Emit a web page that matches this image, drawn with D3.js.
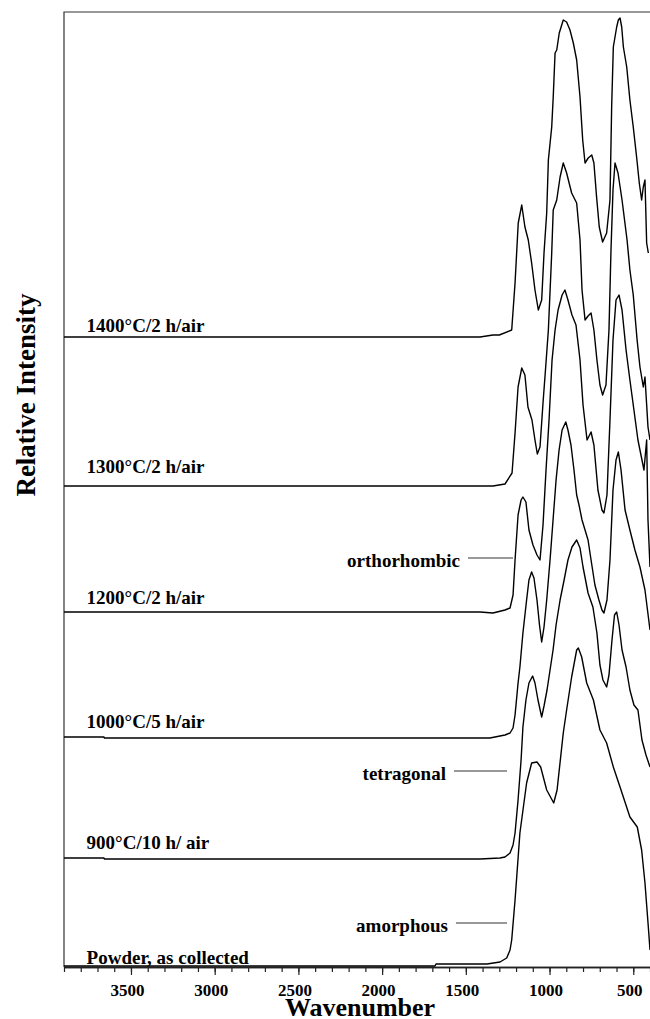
<!DOCTYPE html>
<html>
<head>
<meta charset="utf-8">
<script src="https://cdn.jsdelivr.net/npm/d3@7/dist/d3.min.js"></script>
<style>
  html, body { margin: 0; padding: 0; background: #fff; }
  svg { display: block; }
  text { font-family: "Liberation Serif", "Times New Roman", serif; font-weight: bold; fill: #000; }
</style>
</head>
<body>
<svg id="chart" width="650" height="1019"></svg>
<script>
// stacked IR spectra, bottom to top
var seriesNames = ["Powder, as collected", "900°C/10 h/ air", "1000°C/5 h/air", "1200°C/2 h/air", "1300°C/2 h/air", "1400°C/2 h/air"];
var seriesOffsets = [0, 108, 229, 354, 480, 629];

var powderWn = [3900, 1684, 1678, 1374, 1296, 1256, 1236, 1226, 1206, 1177, 1137, 1107, 1075, 1053, 1017, 975, 955, 918, 898, 868, 838, 828, 808, 778, 738, 699, 659, 619, 579, 520, 476, 450, 430, 410, 400];
var powderInt = [0, 0, 2, 2, 4, 8, 16, 26, 66, 133, 183, 203, 204, 199, 176, 163, 176, 233, 256, 289, 316, 318, 309, 283, 266, 236, 223, 199, 179, 149, 139, 116, 83, 39, 16];

var s900Wn = [3900, 3662, 3658, 1415, 1296, 1266, 1236, 1218, 1206, 1188, 1170, 1159, 1141, 1123, 1101, 1087, 1069, 1047, 1033, 1015, 997, 979, 961, 937, 913, 890, 866, 838, 818, 800, 770, 741, 717, 699, 681, 659, 645, 627, 612, 599, 585, 567, 543, 520, 496, 472, 448, 424, 400];
var s900Int = [0, 0, -1, -1, 0, 1, 5, 13, 25, 58, 98, 131, 158, 175, 182, 175, 158, 141, 152, 168, 188, 208, 233, 258, 278, 298, 311, 318, 310, 291, 265, 251, 225, 193, 178, 171, 183, 218, 243, 246, 233, 208, 191, 168, 153, 148, 118, 103, 91];

var s1000Wn = [3900, 3662, 3658, 1356, 1296, 1266, 1236, 1218, 1206, 1188, 1177, 1159, 1137, 1123, 1107, 1093, 1075, 1060, 1047, 1033, 1017, 997, 979, 961, 943, 925, 903, 890, 872, 854, 838, 824, 806, 788, 770, 752, 729, 705, 687, 675, 657, 639, 621, 603, 589, 573, 549, 520, 490, 460, 430, 400];
var s1000Int = [0, 0, -1, -1, 1, 2, 4, 9, 22, 54, 70, 104, 137, 157, 165, 159, 137, 112, 95, 110, 137, 177, 217, 257, 287, 307, 315, 307, 292, 267, 242, 232, 217, 207, 197, 177, 152, 137, 127, 124, 137, 177, 247, 277, 285, 267, 227, 207, 187, 170, 147, 107];

var s1200Wn = [3900, 1415, 1338, 1266, 1236, 1218, 1206, 1188, 1170, 1159, 1141, 1123, 1099, 1075, 1057, 1039, 1021, 1003, 985, 967, 949, 925, 908, 890, 866, 842, 818, 800, 776, 752, 735, 711, 687, 675, 657, 639, 621, 603, 585, 567, 543, 520, 496, 472, 454, 436, 420, 412, 400];
var s1200Int = [0, 0, -1, 2, 4, 17, 52, 97, 112, 115, 110, 82, 67, 57, 52, 87, 142, 192, 252, 282, 302, 317, 322, 312, 297, 287, 252, 207, 172, 180, 167, 122, 102, 99, 117, 192, 272, 312, 317, 302, 262, 232, 202, 172, 157, 142, 172, 92, 45];

var s1300Wn = [3900, 1338, 1266, 1224, 1206, 1188, 1166, 1147, 1129, 1105, 1087, 1073, 1057, 1039, 1023, 1007, 987, 978, 957, 937, 918, 898, 868, 838, 818, 806, 788, 770, 752, 735, 717, 699, 683, 663, 645, 633, 621, 609, 591, 567, 537, 520, 500, 477, 460, 440, 430, 412, 400];
var s1300Int = [0, 0, 2, 13, 53, 99, 118, 111, 79, 66, 46, 32, 39, 83, 119, 156, 233, 276, 286, 309, 323, 313, 293, 283, 246, 196, 166, 170, 173, 156, 126, 101, 91, 101, 156, 236, 296, 323, 313, 286, 246, 216, 191, 146, 119, 99, 109, 59, 46];

var s1400Wn = [3900, 1415, 1338, 1300, 1226, 1206, 1187, 1166, 1147, 1127, 1107, 1087, 1067, 1047, 1033, 1017, 1007, 987, 978, 967, 957, 942, 918, 898, 878, 858, 838, 818, 802, 788, 769, 748, 735, 719, 703, 683, 659, 639, 629, 619, 599, 589, 579, 569, 559, 539, 520, 500, 480, 464, 450, 440, 430, 420, 410];
var s1400Int = [0, 0, 2, 2, 7, 54, 114, 132, 110, 97, 74, 47, 27, 37, 84, 124, 177, 210, 240, 284, 287, 304, 317, 315, 307, 294, 277, 240, 197, 174, 179, 182, 174, 140, 110, 95, 104, 137, 230, 290, 310, 317, 319, 310, 290, 270, 237, 210, 180, 154, 137, 150, 157, 94, 84];

var majorTicks = [3500, 3000, 2500, 2000, 1500, 1000, 500];
var phaseNames = ["orthorhombic", "tetragonal", "amorphous"];
var phaseFromWn = [1487, 1571, 1559];
var phaseToWn = [1218, 1254, 1254];
var phaseLevel = [408, 195, 43];

var spectraWn = [powderWn, s900Wn, s1000Wn, s1200Wn, s1300Wn, s1400Wn];
var spectraInt = [powderInt, s900Int, s1000Int, s1200Int, s1300Int, s1400Int];

(function() {
  var svg = d3.select("#chart");
  var mLeft = 64, mRight = 650, mTop = 12, mBottom = 966;

  var x = d3.scaleLinear().domain([3900, 400]).range([mLeft, mRight]);
  var y = d3.scaleLinear().domain([0, 954]).range([mBottom, mTop]);

  svg.append("rect").attr("width", 650).attr("height", 1019).attr("fill", "#fff");

  // frame (top + left)
  svg.append("path")
    .attr("d", "M" + mRight + "," + mTop + "H" + mLeft + "V" + (mBottom + 1))
    .attr("fill", "none").attr("stroke", "#333").attr("stroke-width", 1.2);

  // x axis: minor then major ticks
  var minorAxis = d3.axisBottom(x)
    .tickValues(d3.range(3900, 399, -100))
    .tickSize(5).tickSizeOuter(0).tickFormat("");
  var majorAxis = d3.axisBottom(x)
    .tickValues(majorTicks)
    .tickSize(8).tickSizeOuter(0).tickPadding(9)
    .tickFormat(d3.format("d"));

  var gMinor = svg.append("g").attr("transform", "translate(0," + (mBottom + 1) + ")").call(minorAxis);
  var gMajor = svg.append("g").attr("transform", "translate(0," + (mBottom + 1) + ")").call(majorAxis);
  [gMinor, gMajor].forEach(function(g) {
    g.select(".domain").attr("stroke", "#222").attr("stroke-width", 1.4);
    g.selectAll(".tick line").attr("stroke", "#222").attr("stroke-width", 1.2);
  });
  gMajor.selectAll(".tick text")
    .attr("dx", -4)
    .style("font-family", "'Liberation Serif', 'Times New Roman', serif")
    .style("font-weight", "bold").style("font-size", "17px").attr("fill", "#000");

  svg.append("text")
    .attr("x", 360).attr("y", 1016)
    .attr("text-anchor", "middle").style("font-size", "26px")
    .text("Wavenumber");

  svg.append("text")
    .attr("transform", "translate(35,395) rotate(-90)")
    .attr("text-anchor", "middle").style("font-size", "27px")
    .text("Relative Intensity");

  // spectra
  var line = d3.line()
    .x(function(d) { return x(d[0]); })
    .y(function(d) { return y(d[1]); });

  var labelLift = [2, 9, 9, 8, 13, 5];

  spectraWn.forEach(function(wn, i) {
    var pts = wn.map(function(w, j) { return [w, spectraInt[i][j] + seriesOffsets[i]]; });
    svg.append("path")
      .datum(pts)
      .attr("d", line)
      .attr("fill", "none")
      .attr("stroke", "#000")
      .attr("stroke-width", 1.4)
      .attr("stroke-linejoin", "round");

    svg.append("text")
      .attr("x", x(3765))
      .attr("y", y(seriesOffsets[i]) - labelLift[i])
      .style("font-size", "19px")
      .text(seriesNames[i]);
  });

  // phase annotations
  phaseNames.forEach(function(p, i) {
    var x0 = x(phaseFromWn[i]), x1 = x(phaseToWn[i]), yy = y(phaseLevel[i]);
    svg.append("line")
      .attr("x1", x0).attr("x2", x1)
      .attr("y1", yy).attr("y2", yy)
      .attr("stroke", "#333").attr("stroke-width", 1);
    svg.append("text")
      .attr("x", x0 - 8).attr("y", yy + 9)
      .attr("text-anchor", "end")
      .style("font-size", "19px")
      .text(p);
  });
})();
</script>
</body>
</html>
